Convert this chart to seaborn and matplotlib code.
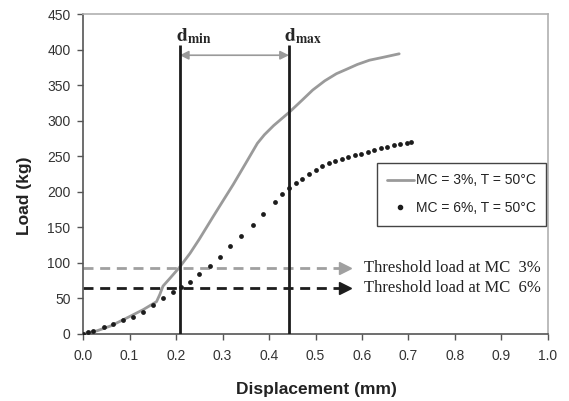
import matplotlib
matplotlib.use("Agg")
import matplotlib.pyplot as plt
from matplotlib.lines import Line2D
import seaborn as sns
import pandas as pd

# Load-displacement curves
disp_mc3 = [0.00, 0.03, 0.06, 0.10, 0.13, 0.158, 0.165, 0.172, 0.187, 0.207, 0.23, 0.25,
            0.28, 0.30, 0.323, 0.35, 0.375, 0.39, 0.41, 0.444, 0.47, 0.494, 0.52, 0.545,
            0.566, 0.59, 0.616, 0.645, 0.68]
load_mc3 = [0, 4, 11, 24, 34, 45, 55, 67, 78, 93, 113, 133,
            165, 186, 210, 240, 268, 280, 293, 312, 328, 343, 356, 366,
            372, 379, 385, 389, 394]

disp_mc6 = [0.000, 0.011, 0.022, 0.044, 0.065, 0.086, 0.108, 0.129, 0.151, 0.172, 0.194,
            0.210, 0.230, 0.250, 0.273, 0.294, 0.315, 0.340, 0.365, 0.387, 0.412, 0.428,
            0.444, 0.458, 0.472, 0.486, 0.500, 0.514, 0.528, 0.542, 0.556, 0.570, 0.584,
            0.598, 0.612, 0.626, 0.640, 0.654, 0.668, 0.682, 0.696, 0.706]
load_mc6 = [0, 2, 4, 10, 14, 19, 24, 31, 41, 50, 59,
            65, 73, 84, 95, 108, 123, 138, 153, 169, 185, 196,
            205, 212, 218, 225, 231, 236, 240, 243, 246, 249, 251,
            253, 256, 259, 261, 263, 265, 267, 269, 270]

label_mc3 = "MC = 3%, T = 50°C"
label_mc6 = "MC = 6%, T = 50°C"

# Displacement window and threshold loads
d_min, d_max = 0.208, 0.443
threshold_mc3, threshold_mc6 = 92, 64
threshold_labels = ["Threshold load at MC  3%", "Threshold load at MC  6%"]

x_ticks = [round(0.1 * i, 1) for i in range(11)]
y_ticks = list(range(0, 451, 50))

df3 = pd.DataFrame({"disp": disp_mc3, "load": load_mc3})
df6 = pd.DataFrame({"disp": disp_mc6, "load": load_mc6})

sns.set_style("ticks")
plt.rcParams["font.family"] = ["Liberation Sans", "DejaVu Sans"]
plt.rcParams["mathtext.fontset"] = "stix"

fig = plt.figure(figsize=(5.69, 4.01), dpi=100)
ax = fig.add_axes([0.146, 0.168, 0.817, 0.797])

grey = "#9a9a9a"
dark = "#1c1c1c"

sns.lineplot(data=df3, x="disp", y="load", ax=ax, color=grey, lw=2, sort=False,
             label=label_mc3, legend=False)
sns.scatterplot(data=df6, x="disp", y="load", ax=ax, color=dark, s=12, linewidth=0,
                label=label_mc6, legend=False, zorder=3)

# d_min / d_max markers
ax.vlines([d_min, d_max], 0, 406, colors=dark, lw=2, zorder=4)
ax.annotate("", xy=(d_max, 392), xytext=(d_min, 392),
            arrowprops=dict(arrowstyle="<|-|>", color=grey, lw=1.2,
                            shrinkA=0, shrinkB=0, mutation_scale=13))
ax.text(d_min - 0.008, 411, r"$\mathbf{d}_{\mathbf{min}}$", fontsize=14, ha="left", va="baseline")
ax.text(d_max - 0.010, 411, r"$\mathbf{d}_{\mathbf{max}}$", fontsize=14, ha="left", va="baseline")

# threshold arrows
arrow_end = 0.553
for level, col in [(threshold_mc3, "#a0a0a0"), (threshold_mc6, dark)]:
    ax.plot([0, arrow_end], [level, level], color=col, lw=2, ls=(0, (3.6, 2.4)),
            clip_on=False, zorder=2)
    ax.plot([arrow_end + 0.011], [level], marker=">", ms=9, color=col,
            mec=col, zorder=2)
for level, txt in zip([threshold_mc3, threshold_mc6], threshold_labels):
    ax.text(0.605, level, txt, family="Liberation Serif", fontsize=12,
            ha="left", va="center", color="#222222")

# legend
handles = [Line2D([], [], color=grey, lw=2),
           Line2D([], [], color=dark, marker="o", ms=3, ls="none")]
leg = ax.legend(handles, [label_mc3, label_mc6], loc="upper left",
                bbox_to_anchor=(0.632, 0.534), fontsize=10, frameon=True,
                fancybox=False, edgecolor="#444444", framealpha=1,
                borderpad=0.75, labelspacing=1.0, handlelength=1.9,
                handletextpad=0.15, borderaxespad=0)
leg.get_frame().set_linewidth(1.0)
for t in leg.get_texts():
    t.set_color("#222222")

ax.set_xlim(0, 1.0)
ax.set_ylim(0, 450)
ax.set_xticks(x_ticks)
ax.set_yticks(y_ticks)
ax.set_xticklabels([f"{v:.1f}" for v in x_ticks])
ax.tick_params(direction="out", length=4, width=1, colors="#555555",
               labelcolor="#333333", labelsize=10)
ax.tick_params(axis="x", pad=7)
ax.tick_params(axis="y", pad=5)

for side in ["top", "right"]:
    ax.spines[side].set_visible(True)
    ax.spines[side].set_color("#b0b0b0")
    ax.spines[side].set_linewidth(1.2)
for side in ["left", "bottom"]:
    ax.spines[side].set_color("#555555")
    ax.spines[side].set_linewidth(1.2)

ax.set_xlabel("Displacement (mm)", fontsize=12.5, fontweight="bold", color="#222222")
ax.set_ylabel("Load (kg)", fontsize=12.5, fontweight="bold", color="#222222")
ax.xaxis.set_label_coords(0.502, -0.152)
ax.yaxis.set_label_coords(-0.11, 0.43)

fig.savefig("out.png", dpi=100)
